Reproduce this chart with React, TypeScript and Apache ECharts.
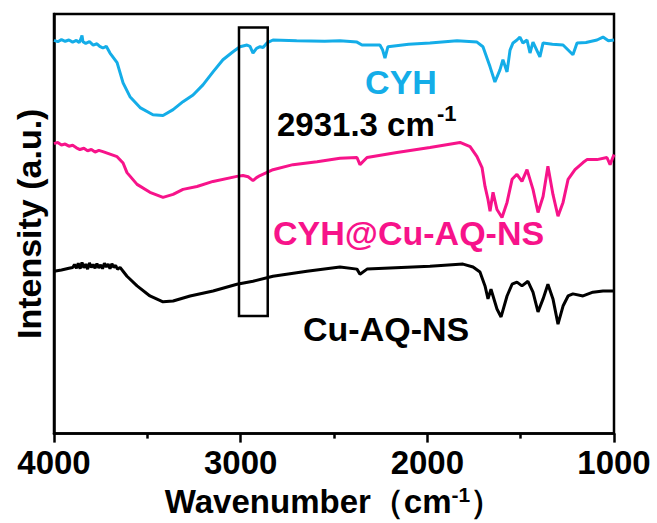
import React, { useEffect, useRef } from 'react';
import * as echarts from 'echarts';

const FONT = '"Liberation Sans", Arial, Helvetica, sans-serif';

const BLUE = '#14ADE8';
const PINK = '#F7138A';
const BLACK = '#000000';

// FT-IR spectra as [wavenumber (cm-1), intensity (a.u.)]
const cyhSpectrum: [number, number][] = [
  [4000, 93.7], [3980, 93.4], [3960, 93.9], [3940, 93.5], [3920, 93.8], [3900, 93.3],
  [3880, 93.7], [3865, 93.2], [3855, 94.2], [3850, 94.9], [3845, 93.4], [3830, 93.0],
  [3810, 93.4], [3790, 92.6], [3770, 92.9], [3755, 92.3], [3738, 91.9], [3720, 92.3],
  [3700, 90.7], [3662, 88.4], [3630, 83.6], [3593, 80.3], [3539, 77.7], [3470, 76.0],
  [3416, 75.8], [3362, 77.2], [3309, 79.1], [3255, 80.7], [3202, 83.1], [3148, 86.2],
  [3095, 89.1], [3041, 91.0], [3004, 92.2], [2966, 92.6], [2950, 92.3], [2934, 90.7],
  [2915, 91.8], [2896, 92.2], [2880, 92.0], [2859, 93.1], [2827, 93.8], [2700, 93.6],
  [2550, 93.5], [2468, 93.6], [2377, 93.3], [2350, 92.6], [2254, 92.6], [2240, 91.5],
  [2227, 89.5], [2211, 92.2], [2100, 92.8], [1986, 93.1], [1841, 93.6], [1734, 93.3],
  [1702, 92.2], [1664, 87.4], [1638, 83.8], [1611, 86.7], [1595, 89.1], [1573, 86.2],
  [1557, 91.4], [1541, 93.1], [1520, 93.8], [1504, 94.5], [1488, 93.1], [1466, 93.8],
  [1450, 90.7], [1434, 93.3], [1397, 89.8], [1380, 93.1], [1330, 92.8], [1273, 92.6],
  [1220, 90.3], [1198, 93.1], [1150, 93.2], [1091, 93.8], [1059, 94.5], [1030, 93.6],
  [1000, 93.8],
];

const cyhCuSpectrum: [number, number][] = [
  [4000, 69.1], [3980, 69.4], [3960, 68.8], [3940, 69.0], [3920, 68.5], [3900, 68.7],
  [3880, 68.1], [3861, 67.7], [3840, 68.0], [3820, 67.4], [3800, 67.7], [3780, 67.1],
  [3760, 67.5], [3738, 67.2], [3700, 66.6], [3662, 66.0], [3630, 64.5], [3609, 62.2],
  [3555, 59.4], [3486, 57.5], [3416, 56.3], [3362, 57.0], [3309, 58.2], [3234, 58.9],
  [3148, 60.1], [3020, 61.3], [2988, 61.5], [2960, 61.2], [2934, 60.3], [2915, 61.0],
  [2896, 61.5], [2827, 62.9], [2720, 64.1], [2591, 64.8], [2468, 65.6], [2377, 65.8],
  [2361, 64.1], [2323, 65.8], [2163, 67.0], [1986, 68.2], [1825, 69.4], [1771, 68.4],
  [1734, 66.0], [1707, 63.4], [1691, 58.9], [1675, 55.8], [1664, 53.0], [1648, 57.5],
  [1627, 53.4], [1600, 51.5], [1573, 55.1], [1546, 60.6], [1520, 61.8], [1493, 60.1],
  [1466, 62.9], [1434, 58.2], [1407, 52.7], [1380, 56.5], [1354, 63.7], [1327, 57.0],
  [1300, 51.8], [1273, 55.1], [1246, 60.6], [1209, 62.9], [1166, 64.6], [1145, 65.3],
  [1091, 65.3], [1038, 65.8], [1021, 64.1], [1000, 66.5],
];

const cuSpectrum: [number, number][] = [
  [4000, 38.7], [3960, 39.0], [3920, 39.4], [3900, 39.6], [3890, 40.3], [3880, 39.4],
  [3870, 40.6], [3860, 39.3], [3850, 40.8], [3840, 39.5], [3830, 40.4], [3820, 39.2],
  [3810, 40.7], [3800, 39.6], [3790, 40.3], [3780, 39.4], [3770, 40.5], [3760, 39.5],
  [3750, 40.2], [3740, 39.3], [3730, 40.6], [3720, 39.7], [3710, 40.4], [3700, 39.3],
  [3690, 40.5], [3680, 39.6], [3670, 40.1], [3660, 39.2], [3646, 39.6], [3630, 38.7],
  [3609, 37.5], [3555, 35.2], [3486, 32.8], [3416, 31.4], [3362, 31.6], [3271, 32.8],
  [3148, 34.0], [3020, 35.6], [2934, 36.3], [2827, 37.5], [2645, 38.7], [2468, 39.7],
  [2377, 39.2], [2361, 38.0], [2323, 39.2], [1986, 39.9], [1809, 40.4], [1755, 39.7],
  [1718, 38.5], [1691, 35.2], [1675, 32.1], [1659, 34.4], [1648, 32.8], [1627, 29.7],
  [1605, 27.8], [1573, 32.8], [1546, 35.6], [1520, 36.1], [1493, 35.2], [1461, 36.3],
  [1434, 33.7], [1407, 29.0], [1380, 32.1], [1354, 35.6], [1327, 32.1], [1300, 26.1],
  [1273, 30.4], [1246, 32.8], [1220, 33.3], [1166, 32.8], [1113, 33.7], [1059, 34.0],
  [1000, 34.0],
];

// Highlighted C-H stretching window around 2931.3 cm-1
const boxWavenumbers = [3009, 2855];
const boxIntensities = [96.8, 28.0];

const xTickValues = [4000, 3000, 2000, 1000];

export default function App() {
  const ref = useRef<HTMLDivElement>(null);

  useEffect(() => {
    const chart = echarts.init(ref.current!, null, { renderer: 'svg' });
    const lineSeries = (name: string, data: [number, number][], color: string, z: number) => ({
      name,
      type: 'line',
      data,
      symbol: 'none',
      showSymbol: false,
      smooth: false,
      z,
      lineStyle: { color, width: 3 },
      emphasis: { disabled: true },
    });

    const blue = lineSeries('CYH', cyhSpectrum, BLUE, 4) as any;
    blue.markArea = {
      silent: true,
      z: 5,
      itemStyle: { color: 'rgba(0,0,0,0)', borderColor: '#000', borderWidth: 2.5 },
      data: [[
        { coord: [boxWavenumbers[0], boxIntensities[0]] },
        { coord: [boxWavenumbers[1], boxIntensities[1]] },
      ]],
    };

    chart.setOption({
      animation: false,
      backgroundColor: '#ffffff',
      grid: {
        left: 54, right: 43, top: 14, bottom: 88,
        show: true, borderColor: '#000', borderWidth: 2.5, backgroundColor: 'transparent',
      },
      xAxis: {
        type: 'value',
        min: xTickValues[xTickValues.length - 1],
        max: xTickValues[0],
        interval: 1000,
        inverse: true,
        axisLine: { show: true, lineStyle: { color: '#000', width: 2.5 } },
        axisTick: { show: true, length: 9, lineStyle: { color: '#000', width: 2.5 } },
        minorTick: { show: true, splitNumber: 2, length: 5, lineStyle: { color: '#000', width: 2.5 } },
        splitLine: { show: false },
        axisLabel: {
          color: '#000', fontSize: 33, fontWeight: 'bold', fontFamily: FONT, margin: 12,
          showMinLabel: true, showMaxLabel: true,
          formatter: (v: number) => String(v),
        },
        name: '{t|Wavenumber（cm}{s|-1}{t|）}',
        nameLocation: 'middle',
        nameGap: 42,
        nameTextStyle: {
          rich: {
            t: { fontSize: 33, fontWeight: 'bold', fontFamily: FONT, color: '#000', lineHeight: 36 },
            s: { fontSize: 21, fontWeight: 'bold', fontFamily: FONT, color: '#000', verticalAlign: 'top', lineHeight: 36 },
          },
        },
      },
      yAxis: {
        type: 'value',
        min: 0,
        max: 100,
        axisLine: { show: true, lineStyle: { color: '#000', width: 2.5 } },
        axisTick: { show: false },
        axisLabel: { show: false },
        splitLine: { show: false },
        name: 'Intensity (a.u.)',
        nameLocation: 'middle',
        nameGap: 8,
        nameTextStyle: { fontSize: 34, fontWeight: 'bold', fontFamily: FONT, color: '#000' },
      },
      series: [
        lineSeries('Cu-AQ-NS', cuSpectrum, BLACK, 2),
        lineSeries('CYH@Cu-AQ-NS', cyhCuSpectrum, PINK, 3),
        blue,
      ],
      graphic: [
        {
          type: 'text', x: 401, y: 82, z: 10,
          style: { text: 'CYH', fill: BLUE, font: `bold 34px ${FONT}`, align: 'center', verticalAlign: 'middle' },
        },
        {
          type: 'text', x: 277, y: 124, z: 10,
          style: { text: '2931.3 cm', fill: '#000', font: `bold 33px ${FONT}`, align: 'left', verticalAlign: 'middle' },
        },
        {
          type: 'text', x: 437, y: 113, z: 10,
          style: { text: '-1', fill: '#000', font: `bold 22px ${FONT}`, align: 'left', verticalAlign: 'middle' },
        },
        {
          type: 'text', x: 273, y: 233, z: 10,
          style: { text: 'CYH@Cu-AQ-NS', fill: PINK, font: `bold 34px ${FONT}`, align: 'left', verticalAlign: 'middle' },
        },
        {
          type: 'text', x: 303, y: 329, z: 10,
          style: { text: 'Cu-AQ-NS', fill: '#000', font: `bold 34px ${FONT}`, align: 'left', verticalAlign: 'middle' },
        },
      ],
    });

    return () => chart.dispose();
  }, []);

  return (
    <div
      ref={ref}
      style={{ width: 657, height: 523, position: 'absolute', left: 0, top: 0, background: '#fff' }}
    />
  );
}
